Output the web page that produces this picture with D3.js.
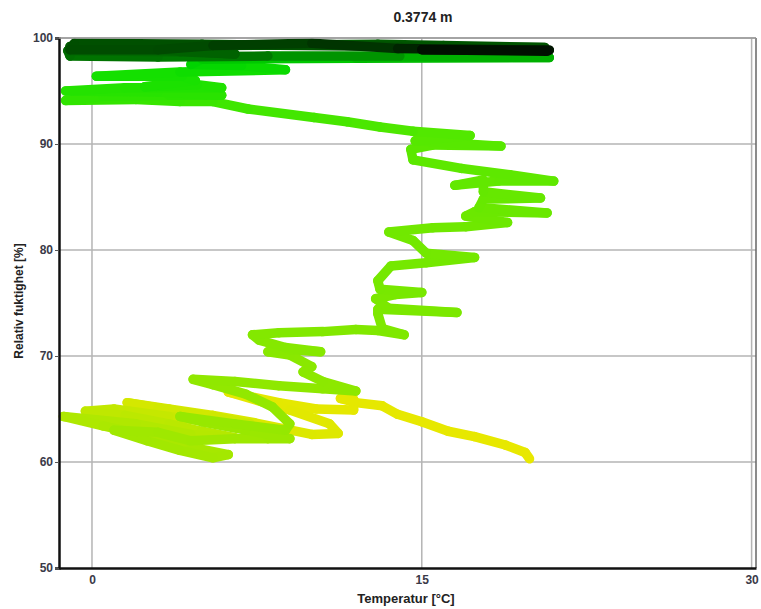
<!DOCTYPE html>
<html>
<head>
<meta charset="utf-8">
<script src="https://cdn.jsdelivr.net/npm/d3@7"></script>
<style>
  body { margin: 0; background: #fff; }
  svg { display: block; font-family: Arial, "Liberation Sans", sans-serif; }
</style>
</head>
<body>
<div id="chart"></div>
<script>
// Temperature vs relative humidity trace, coloured by time (yellow = first, black = last)
const title = "0.3774 m";
const xTicks = [0, 15, 30];
const yTicks = [50, 60, 70, 80, 90, 100];

// temperature [°C], in time order
const temp = [
  19.9, 19.7, 18.8, 17.4, 16.2, 15.0, 13.9, 13.2, 12.0, 11.3,
  11.9, 11.9, 10.2, 8.5, 6.2, 9.0, 10.8, 11.2, 10.0, 7.4,
  5.5, 3.5, 1.6, 3.0, 5.5, 7.2, 6.0, 3.5, 1.0, -0.3,
  1.5, 3.5, 5.0, 6.5, 4.5, 2.0, -1.3, 0.5, 2.5, 4.5,
  6.2, 5.5, 4.0, 2.5, 1.0, 3.0, 4.5, 6.5, 8.0, 9.0,
  7.0, 5.0, 4.0, 6.5, 8.8, 9.0, 8.2, 7.0, 5.5, 4.6,
  6.5, 8.5, 10.5, 12.0, 10.5, 9.6, 10.0, 9.0, 8.0, 9.0,
  10.4, 8.8, 7.6, 7.3, 8.5, 10.5, 12.0, 13.0, 14.2, 13.2,
  13.0, 13.0, 16.6, 13.5, 12.9, 13.8, 15.0, 13.1, 13.0, 13.6,
  15.2, 17.4, 15.2, 14.6, 13.5, 15.5, 17.0, 18.9, 17.0, 17.4,
  20.7, 17.6, 17.8, 20.4, 17.8, 17.8, 16.5, 18.5, 21.0, 19.0,
  16.8, 14.6, 14.5, 15.5, 18.6, 14.7, 17.2, 14.6, 13.1, 11.6,
  10.1, 7.1, 5.5, 4.0, 2.0, -1.2, 0.5, 3.5, 5.9, 3.0,
  -1.2, 1.5, 5.9, 4.8, 2.4, 4.7, 4.1, 0.2, 4.0, 8.8,
  6.8, 4.5, 5.0, 12.0, 20.8, 14.0, 8.0, 3.0, -1.0, -1.1,
  4.0, 6.5, 2.0, -1.0, 6.0, 13.0, 16.0, 20.6, 14.0, 5.0,
  -0.8, -1.0, 3.0, 5.5, 10.0, 13.9, 20.8, 15.0, 20.7
];

// relative humidity [%], same order
const rh = [
  60.3, 60.9, 61.6, 62.4, 62.9, 63.8, 64.5, 65.3, 65.6, 66.0,
  65.9, 64.9, 65.0, 65.6, 66.6, 64.9, 63.6, 62.7, 62.6, 63.7,
  64.4, 65.0, 65.6, 65.1, 64.3, 63.6, 63.6, 64.3, 65.0, 64.8,
  64.4, 63.6, 62.9, 62.3, 62.6, 63.6, 64.3, 63.4, 62.5, 61.4,
  60.7, 60.4, 61.1, 62.0, 63.0, 62.8, 62.0, 62.2, 62.2, 62.2,
  63.0, 63.8, 64.3, 63.6, 63.0, 63.6, 65.2, 66.4, 67.3, 67.8,
  67.6, 67.2, 66.9, 66.7, 67.6, 68.5, 69.0, 70.1, 70.4, 70.6,
  70.4, 70.8, 71.5, 72.0, 72.2, 72.3, 72.5, 72.4, 72.0, 72.6,
  74.0, 74.4, 74.1, 74.5, 75.4, 75.8, 76.0, 76.3, 77.1, 78.5,
  78.8, 79.3, 79.7, 80.9, 81.7, 82.1, 82.2, 82.6, 83.2, 83.6,
  83.5, 84.0, 84.8, 84.9, 85.5, 86.6, 86.1, 86.5, 86.5, 87.1,
  87.7, 88.5, 89.5, 89.9, 89.8, 90.3, 90.8, 91.2, 91.6, 92.1,
  92.5, 93.3, 94.0, 94.0, 94.2, 94.1, 94.5, 94.6, 94.6, 94.9,
  95.0, 95.3, 95.3, 95.6, 95.4, 96.0, 96.4, 96.4, 96.8, 97.0,
  97.4, 97.5, 98.0, 98.1, 98.15, 98.3, 98.3, 98.2, 98.3, 98.8,
  98.7, 98.5, 99.0, 99.2, 99.3, 99.4, 99.3, 99.1, 99.2, 99.4,
  99.5, 98.9, 98.9, 99.3, 99.5, 99.0, 98.85, 98.9, 98.75
];

// colour stops along the record (point index -> colour)
const stopIndex = [0, 14, 22, 30, 40, 55, 70, 95, 115, 125, 137, 141, 144, 146, 150, 157, 162, 164, 166, 168];
const stopColor = ["#e8e800", "#e4e800", "#d4e800", "#bce800", "#a4e800", "#94e800", "#86e800", "#70e800",
                   "#56e800", "#30e400", "#14e000", "#00d400", "#00b000", "#007800", "#006400", "#005400",
                   "#004a00", "#003400", "#001400", "#000c00"];

const points = temp.map((t, i) => ({ t, rh: rh[i], i }));

const width = 761;
const height = 609;
const margin = { top: 38, right: 5, bottom: 41, left: 59 };

const x = d3.scaleLinear()
    .domain([-1.5, 30.2])
    .range([margin.left, width - margin.right]);

const y = d3.scaleLinear()
    .domain([50, 100])
    .range([height - margin.bottom, margin.top]);

const color = d3.scaleLinear()
    .domain(stopIndex)
    .range(stopColor);

const svg = d3.select("#chart").append("svg")
    .attr("width", width)
    .attr("height", height);

// grid
svg.append("g")
    .selectAll("line")
    .data(xTicks)
    .join("line")
    .attr("x1", d => x(d)).attr("x2", d => x(d))
    .attr("y1", margin.top).attr("y2", height - margin.bottom)
    .attr("stroke", "#b4b4b4")
    .attr("stroke-width", 1.5);

svg.append("g")
    .selectAll("line")
    .data(yTicks.slice(1))
    .join("line")
    .attr("x1", margin.left).attr("x2", width - margin.right)
    .attr("y1", d => y(d)).attr("y2", d => y(d))
    .attr("stroke", "#b4b4b4")
    .attr("stroke-width", 1.5);

// right border
svg.append("line")
    .attr("x1", width - margin.right).attr("x2", width - margin.right)
    .attr("y1", margin.top).attr("y2", height - margin.bottom)
    .attr("stroke", "#666")
    .attr("stroke-width", 1.5);

// trace
const segs = d3.pairs(points);
svg.append("g")
    .attr("stroke-linecap", "round")
    .selectAll("line")
    .data(segs)
    .join("line")
    .attr("x1", d => x(d[0].t)).attr("y1", d => y(d[0].rh))
    .attr("x2", d => x(d[1].t)).attr("y2", d => y(d[1].rh))
    .attr("stroke", d => color(d[0].i))
    .attr("stroke-width", 9.5);

// axes
const xAxis = svg.append("g")
    .attr("transform", `translate(0,${height - margin.bottom})`)
    .call(d3.axisBottom(x).tickValues(xTicks).tickSize(0).tickPadding(7).tickFormat(d3.format("d")));
xAxis.select(".domain").attr("stroke", "#111").attr("stroke-width", 2.5);

const yAxis = svg.append("g")
    .attr("transform", `translate(${margin.left},0)`)
    .call(d3.axisLeft(y).tickValues(yTicks).tickSize(4).tickPadding(2).tickFormat(d3.format("d")));
yAxis.select(".domain").attr("stroke", "#111").attr("stroke-width", 2.5);
yAxis.selectAll(".tick line").attr("stroke", "#555");

svg.selectAll(".tick text")
    .attr("fill", "#3a3a48")
    .style("font-size", "12px")
    .style("font-weight", "bold")
    .style("font-family", "Arial, 'Liberation Sans', sans-serif");

// top border
svg.append("line")
    .attr("x1", margin.left).attr("x2", width - margin.right)
    .attr("y1", margin.top).attr("y2", margin.top)
    .attr("stroke", "#999")
    .attr("stroke-width", 1.5);

// labels
svg.append("text")
    .attr("x", 423)
    .attr("y", 22)
    .attr("text-anchor", "middle")
    .style("font-size", "14px")
    .style("font-weight", "bold")
    .attr("fill", "#222")
    .text(title);

svg.append("text")
    .attr("x", 406)
    .attr("y", 603)
    .attr("text-anchor", "middle")
    .style("font-size", "13px")
    .style("font-weight", "bold")
    .attr("fill", "#222")
    .text("Temperatur [°C]");

svg.append("text")
    .attr("transform", "rotate(-90)")
    .attr("x", -301)
    .attr("y", 23)
    .attr("text-anchor", "middle")
    .style("font-size", "12px")
    .style("font-weight", "bold")
    .attr("fill", "#222")
    .text("Relativ fuktighet [%]");
</script>
</body>
</html>
